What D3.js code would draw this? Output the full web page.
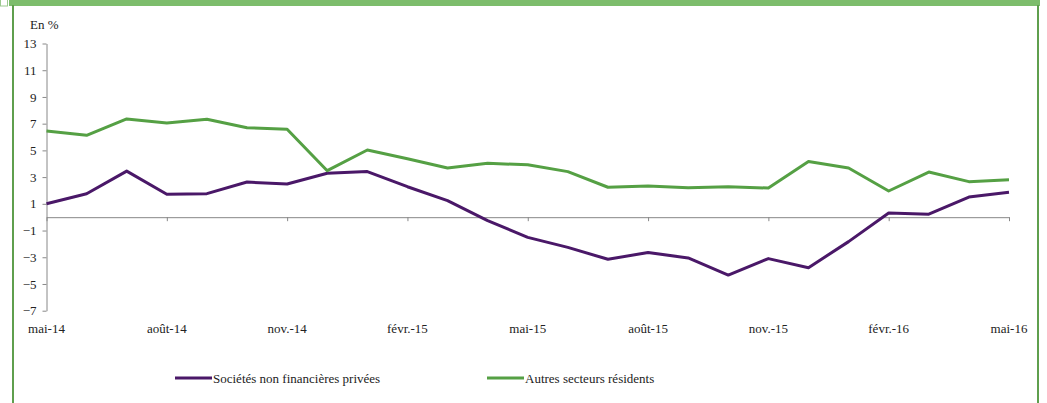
<!DOCTYPE html>
<html>
<head>
<meta charset="utf-8">
<script src="https://cdn.jsdelivr.net/npm/d3@7"></script>
<style>
  body { margin: 0; background: #fff; }
</style>
</head>
<body>
<div id="viz"></div>
<script>
var months = ["mai-14","juin-14","juil.-14","août-14","sept.-14","oct.-14","nov.-14","déc.-14",
  "janv.-15","févr.-15","mars-15","avr.-15","mai-15","juin-15","juil.-15","août-15","sept.-15",
  "oct.-15","nov.-15","déc.-15","janv.-16","févr.-16","mars-16","avr.-16","mai-16"];

// Sociétés non financières privées
var snfValues = [1.0, 1.75, 3.45, 1.72, 1.76, 2.63, 2.48, 3.29, 3.41, 2.28, 1.24, -0.26, -1.51,
  -2.26, -3.15, -2.65, -3.05, -4.33, -3.1, -3.78, -1.83, 0.31, 0.22, 1.51, 1.86];

// Autres secteurs résidents
var asrValues = [6.45, 6.13, 7.35, 7.05, 7.33, 6.7, 6.58, 3.48, 5.03, 4.38, 3.68, 4.03, 3.92,
  3.41, 2.24, 2.33, 2.21, 2.28, 2.18, 4.16, 3.68, 1.96, 3.38, 2.66, 2.81];

var yTicks = [-7, -5, -3, -1, 1, 3, 5, 7, 9, 11, 13];
var xTickLabels = ["mai-14","août-14","nov.-14","févr.-15","mai-15","août-15","nov.-15","févr.-16","mai-16"];

var seriesNames = ["Sociétés non financières privées", "Autres secteurs résidents"];
var seriesColors = ["#4a1868", "#55a044"];

var width = 1047, height = 403;
var FONT = "'Liberation Serif', 'Times New Roman', 'DejaVu Serif', serif";

var svg = d3.select("#viz").append("svg")
  .attr("width", width)
  .attr("height", height);

// frame
svg.append("rect").attr("x", 9).attr("y", 0).attr("width", 1031).attr("height", 6).attr("fill", "#7dbd6c");
svg.append("rect").attr("x", 0.5).attr("y", -1).attr("width", 7).attr("height", 7)
  .attr("fill", "#fff").attr("stroke", "#9cc98f");
svg.append("line").attr("x1", 13).attr("x2", 13).attr("y1", 5).attr("y2", height)
  .attr("stroke", "#5f9f4e").attr("stroke-width", 2);
svg.append("line").attr("x1", 1038).attr("x2", 1038).attr("y1", 5).attr("y2", height)
  .attr("stroke", "#5f9f4e").attr("stroke-width", 2);

var x = d3.scaleLinear()
  .domain([0, months.length - 1])
  .range([46.5, 1009]);

var y = d3.scaleLinear()
  .domain([-7, 13])
  .range([310.7, 43.5]);

// y axis
var yAxis = svg.append("g")
  .attr("transform", "translate(46.5,0)")
  .call(d3.axisLeft(y).tickValues(yTicks).tickSize(4).tickPadding(6).tickSizeOuter(0));
yAxis.attr("font-family", null);
yAxis.select(".domain").attr("stroke", "#888");
yAxis.selectAll(".tick line").attr("stroke", "#888");
yAxis.selectAll("text").attr("font-size", 13).attr("fill", "#222").style("font-family", FONT);

// x axis at zero
var tickIdx = xTickLabels.map(function(d) { return months.indexOf(d); });
var xAxis = svg.append("g")
  .attr("transform", "translate(0," + y(0) + ")")
  .call(d3.axisBottom(x).tickValues(tickIdx).tickSize(4).tickSizeOuter(0).tickFormat(""));
xAxis.select(".domain").attr("stroke", "#888");
xAxis.selectAll(".tick line").attr("stroke", "#888");

// x labels at bottom
svg.append("g").selectAll("text")
  .data(xTickLabels)
  .enter().append("text")
    .attr("x", function(d) { return x(months.indexOf(d)); })
    .attr("y", 333)
    .attr("text-anchor", "middle")
    .attr("font-size", 13)
    .attr("fill", "#222")
    .style("font-family", FONT)
    .text(function(d) { return d; });

svg.append("text")
  .attr("x", 30).attr("y", 29)
  .attr("font-size", 13)
  .attr("fill", "#222")
  .style("font-family", FONT)
  .text("En %");

var line = d3.line()
  .x(function(d, i) { return x(i); })
  .y(function(d) { return y(d); });

[snfValues, asrValues].forEach(function(vals, k) {
  svg.append("path")
    .datum(vals)
    .attr("d", line)
    .attr("fill", "none")
    .attr("stroke", seriesColors[k])
    .attr("stroke-width", 3)
    .attr("stroke-linejoin", "round");
});

// legend
var legendX = [175, 487];
var legend = svg.append("g").selectAll("g")
  .data(seriesNames)
  .enter().append("g")
    .attr("transform", function(d, i) { return "translate(" + legendX[i] + ",378)"; });
legend.append("line")
  .attr("x1", 0).attr("x2", 37)
  .attr("stroke", function(d, i) { return seriesColors[i]; })
  .attr("stroke-width", 3);
legend.append("text")
  .attr("x", 38).attr("y", 4.5)
  .attr("font-size", 13)
  .attr("fill", "#222")
  .style("font-family", FONT)
  .text(function(d) { return d; });
</script>
</body>
</html>
